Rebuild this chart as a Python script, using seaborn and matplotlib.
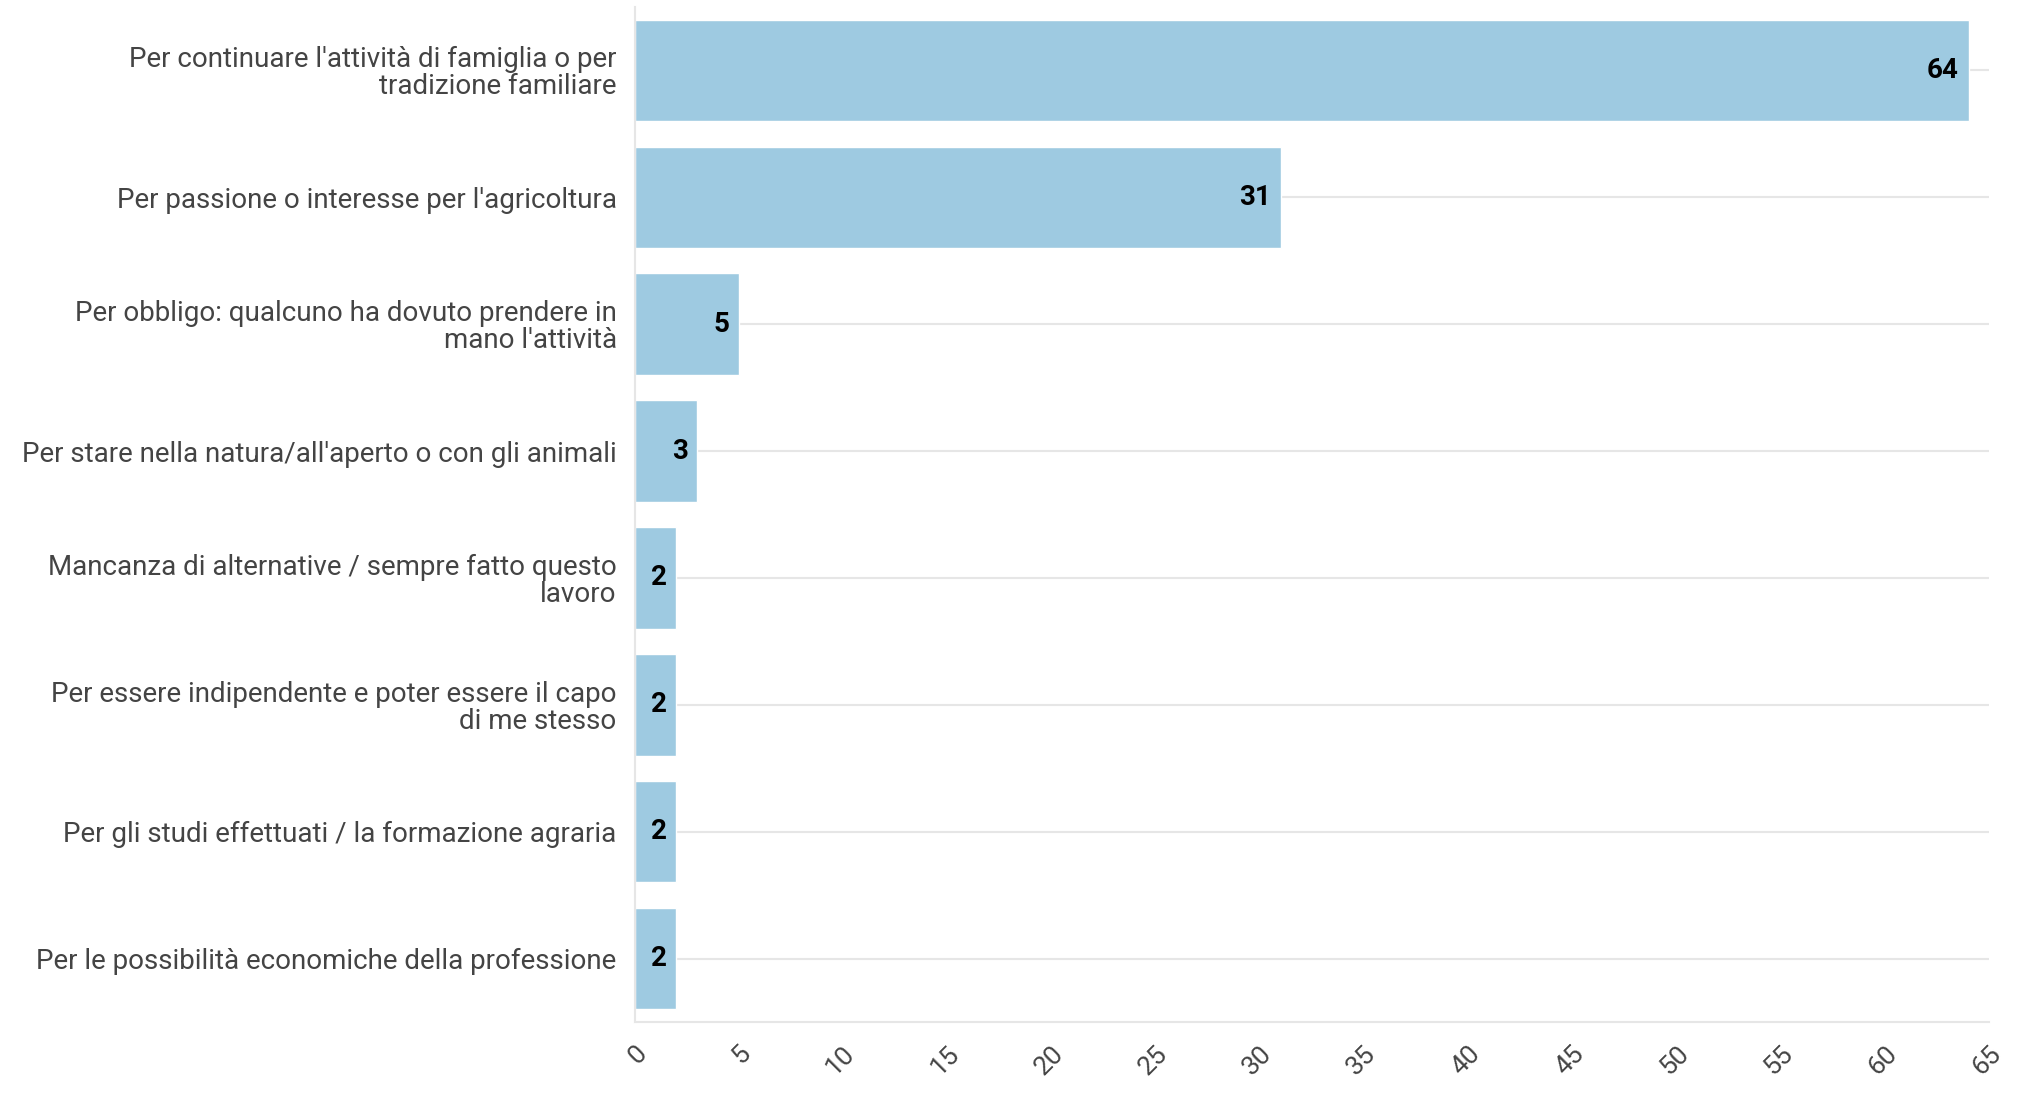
import pandas as pd
import seaborn as sns
import numpy as np
import matplotlib.pyplot as plt
import matplotlib.transforms as mtransforms

# motivi per fare l'agricoltore
categorie = [
    "Per continuare l'attività di famiglia o per\ntradizione familiare",
    "Per passione o interesse per l'agricoltura",
    "Per obbligo: qualcuno ha dovuto prendere in\nmano l'attività",
    "Per stare nella natura/all'aperto o con gli animali",
    "Mancanza di alternative / sempre fatto questo\nlavoro",
    "Per essere indipendente e poter essere il capo\ndi me stesso",
    "Per gli studi effettuati / la formazione agraria",
    "Per le possibilità economiche della professione",
]
valori = [64, 31, 5, 3, 2, 2, 2, 2]
xticks = list(range(0, 70, 5))

sns.set_style('white')
plt.rcParams['font.family'] = ['Roboto', 'DejaVu Sans']

df = pd.DataFrame({'motivo': categorie, 'n': valori})

fig = plt.figure(figsize=(20.28, 11.16), dpi=100)
ax = fig.add_axes([0.313, 0.0842, 0.668, 0.9095])

sns.barplot(data=df, x='n', y='motivo', orient='h', color='#9ecae1',
            saturation=1, width=0.8, ax=ax, zorder=2)

grigio = '#e6e6e6'
ax.set_xlim(0, 65)
ax.set_ylim(len(categorie) - 0.5, -0.5)
ax.set_xticks(xticks)
ax.set_xticklabels([str(t) for t in xticks], rotation=45, ha='right',
                   va='center', rotation_mode='anchor')
ax.grid(axis='y', color=grigio, linewidth=1.5, zorder=0)
ax.grid(axis='x', visible=False)

for s in ['top', 'right']:
    ax.spines[s].set_visible(False)
for s in ['left', 'bottom']:
    ax.spines[s].set_color(grigio)
    ax.spines[s].set_linewidth(1.5)

ax.tick_params(axis='x', length=10, width=1.5, color=grigio,
               labelsize=19, labelcolor='#444444', pad=10)
ax.tick_params(axis='y', length=11, width=1.5, color=grigio,
               labelsize=20, labelcolor='#444444', pad=2)
for t in ax.get_yticklabels():
    t.set_linespacing(1.0)

# sposta un po' a destra le etichette ruotate
sposta = mtransforms.ScaledTranslation(8 / 100, 0, fig.dpi_scale_trans)
for t in ax.get_xticklabels():
    t.set_transform(t.get_transform() + sposta)
ax.set_xlabel('')
ax.set_ylabel('')

etichette = ax.bar_label(ax.containers[0], labels=[str(v) for v in valori],
                         padding=-7, fontsize=20, fontweight='bold', color='black')
for t in etichette:
    t.set_ha('right')

plt.savefig('out.png', dpi=100)
